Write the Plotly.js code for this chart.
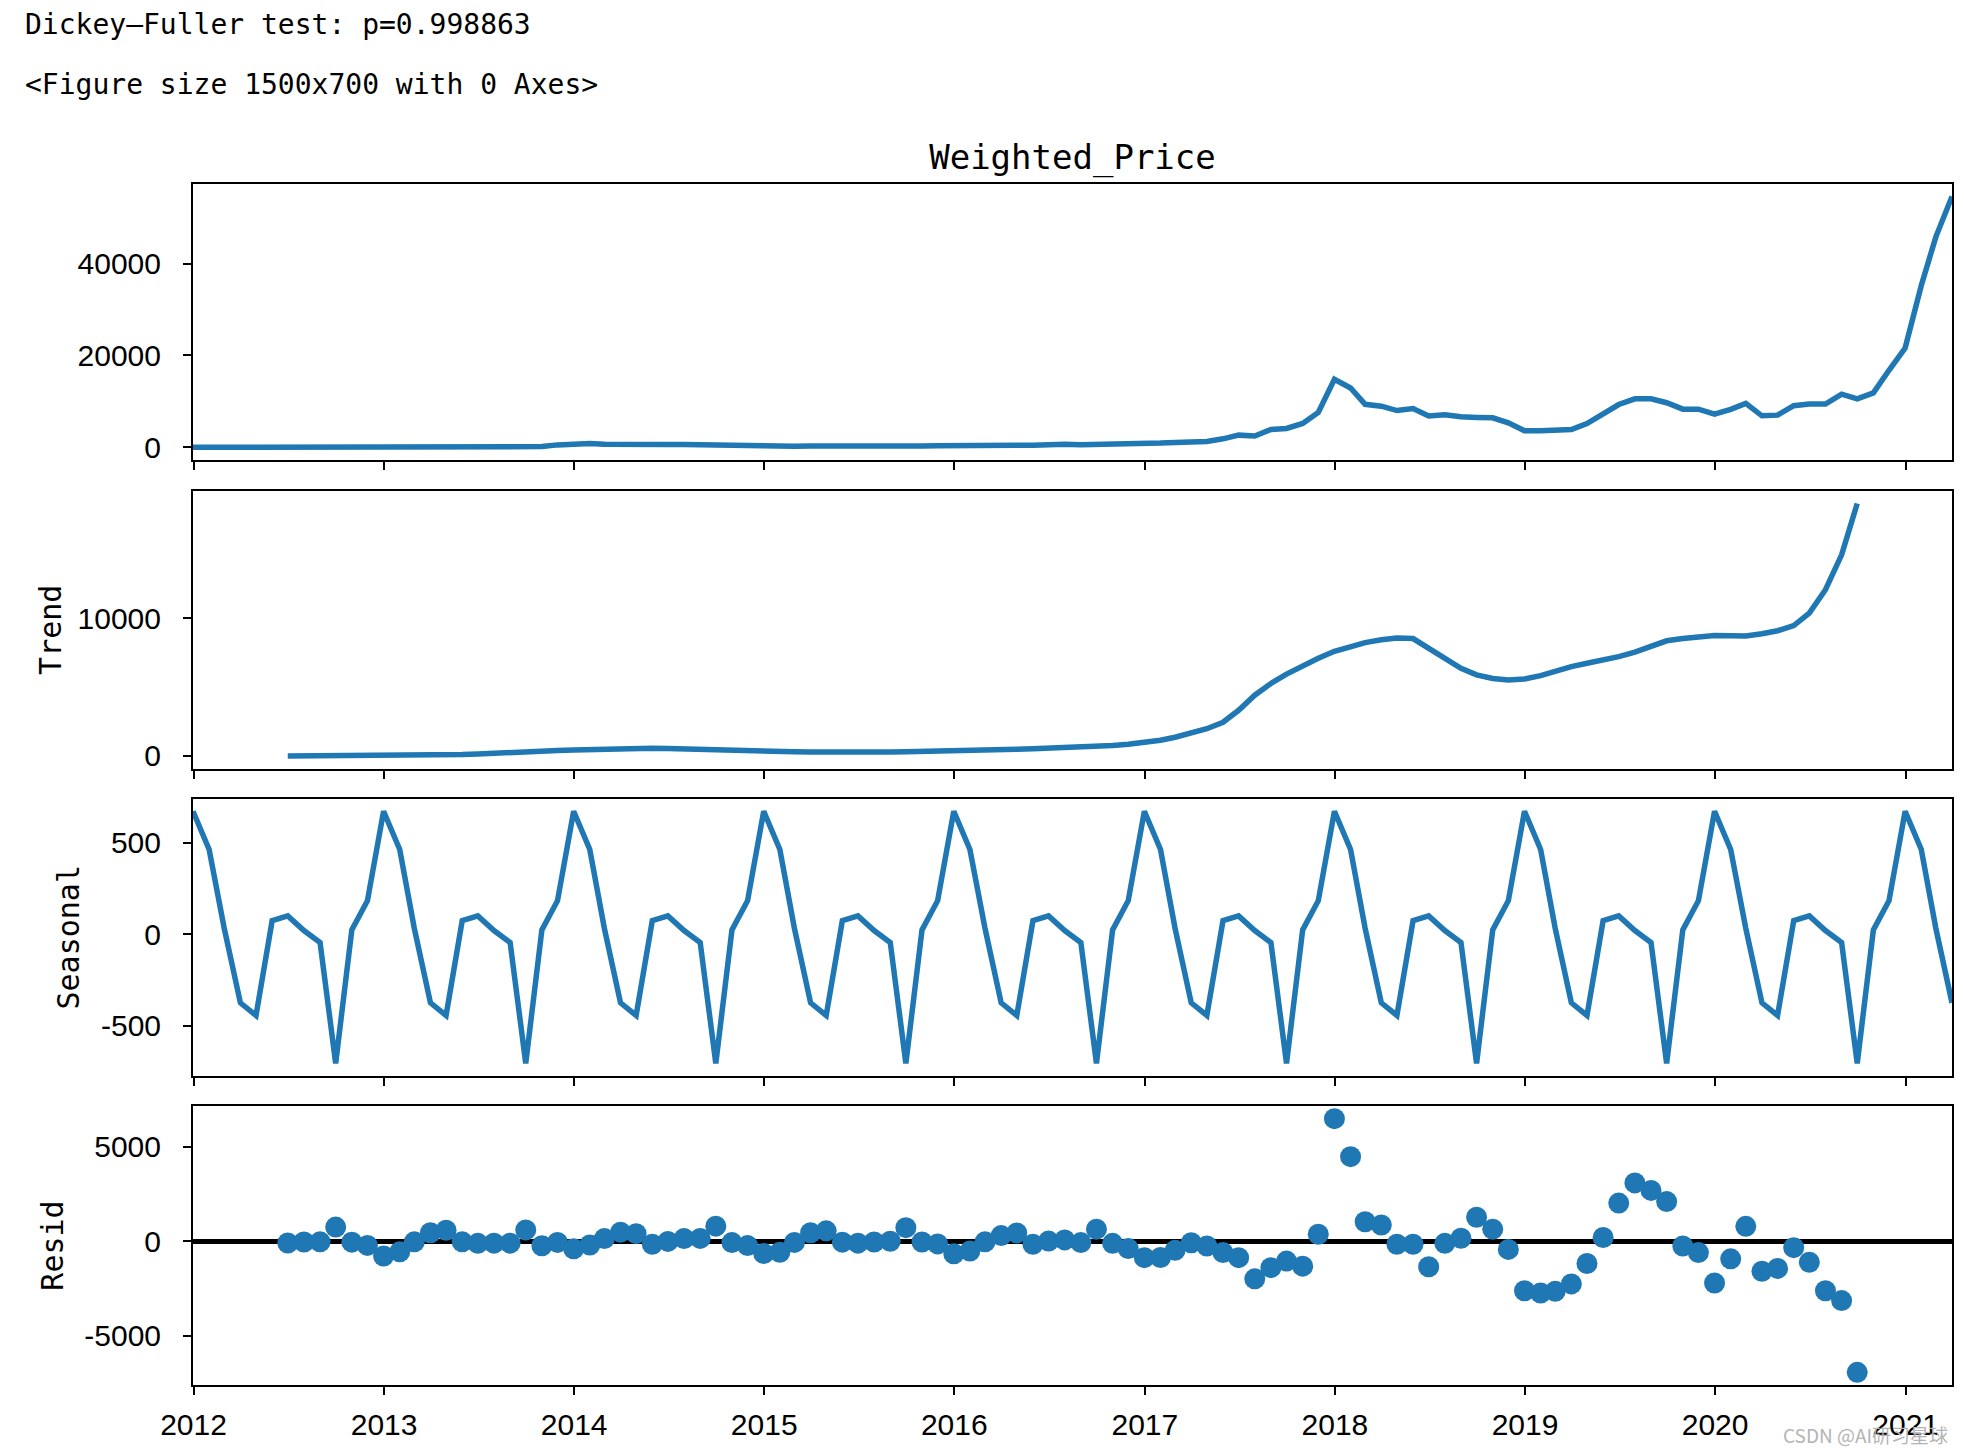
<!DOCTYPE html>
<html>
<head>
<meta charset="utf-8">
<script src="https://cdn.plot.ly/plotly-3.0.1.min.js"></script>
<style>
html, body { margin: 0; padding: 0; background: #ffffff; }
#chart { width: 1964px; height: 1454px; }
</style>
</head>
<body>
<div id="chart"></div>
<script>
// ---- data (monthly, month-end) ----
const dates = [
  "2011-12-31",
  "2012-01-31","2012-02-29","2012-03-31","2012-04-30","2012-05-31","2012-06-30","2012-07-31","2012-08-31","2012-09-30","2012-10-31","2012-11-30","2012-12-31",
  "2013-01-31","2013-02-28","2013-03-31","2013-04-30","2013-05-31","2013-06-30","2013-07-31","2013-08-31","2013-09-30","2013-10-31","2013-11-30","2013-12-31",
  "2014-01-31","2014-02-28","2014-03-31","2014-04-30","2014-05-31","2014-06-30","2014-07-31","2014-08-31","2014-09-30","2014-10-31","2014-11-30","2014-12-31",
  "2015-01-31","2015-02-28","2015-03-31","2015-04-30","2015-05-31","2015-06-30","2015-07-31","2015-08-31","2015-09-30","2015-10-31","2015-11-30","2015-12-31",
  "2016-01-31","2016-02-29","2016-03-31","2016-04-30","2016-05-31","2016-06-30","2016-07-31","2016-08-31","2016-09-30","2016-10-31","2016-11-30","2016-12-31",
  "2017-01-31","2017-02-28","2017-03-31","2017-04-30","2017-05-31","2017-06-30","2017-07-31","2017-08-31","2017-09-30","2017-10-31","2017-11-30","2017-12-31",
  "2018-01-31","2018-02-28","2018-03-31","2018-04-30","2018-05-31","2018-06-30","2018-07-31","2018-08-31","2018-09-30","2018-10-31","2018-11-30","2018-12-31",
  "2019-01-31","2019-02-28","2019-03-31","2019-04-30","2019-05-31","2019-06-30","2019-07-31","2019-08-31","2019-09-30","2019-10-31","2019-11-30","2019-12-31",
  "2020-01-31","2020-02-29","2020-03-31","2020-04-30","2020-05-31","2020-06-30","2020-07-31","2020-08-31","2020-09-30","2020-10-31","2020-11-30","2020-12-31",
  "2021-01-31","2021-02-28","2021-03-31"
];

const weightedPrice = [
  4.5,
  6.2, 5.3, 4.9, 5.0, 5.1, 5.9, 8.0, 10.6, 11.2, 11.7, 11.0, 13.3,
  15.5, 25, 56, 123, 116, 106, 85, 106, 130, 158, 525, 760,
  820, 640, 590, 460, 480, 615, 620, 535, 455, 365, 365, 340,
  250, 235, 270, 235, 237, 237, 280, 255, 233, 265, 350, 425,
  410, 405, 415, 435, 460, 640, 660, 580, 605, 640, 725, 820,
  915, 1060, 1130, 1250, 1850, 2650, 2450, 3880, 4100, 5180, 7600, 14800,
  12900, 9350, 8950, 8000, 8440, 6800, 7100, 6630, 6490, 6420, 5330, 3590,
  3590, 3620, 3880, 5180, 7250, 9310, 10550, 10550, 9700, 8300, 8300, 7200,
  8250, 9550, 6850, 7000, 9050, 9400, 9400, 11560, 10560, 11840, 16760, 21610,
  35200, 45800, 54600
];

const trend = [
  null,
  null, null, null, null, null, 8, 9, 11, 13, 17, 25, 38,
  46, 53, 62, 73, 100, 153, 217, 276, 324, 361, 390, 426,
  470, 510, 541, 563, 565, 541, 500, 459, 429, 406, 387, 361,
  331, 305, 284, 271, 266, 269, 279, 293, 306, 320, 338, 364,
  397, 426, 455, 486, 518, 550, 587, 636, 693, 755, 845, 986,
  1145, 1358, 1640, 1976, 2444, 3313, 4407, 5258, 5938, 6549, 7080, 7590,
  7950, 8220, 8420, 8550, 8510, 7830, 7050, 6350, 5880, 5620, 5500, 5580,
  5820, 6150, 6480, 6720, 6920, 7200, 7530, 7980, 8350, 8510, 8650, 8740,
  8720, 8700, 8860, 9080, 9450, 10360, 12050, 14580, 18300, null, null, null,
  null, null, null
];

const seasonal = [
  671,
  462, 32, -374, -443, 74, 100, 20, -45, -704, 24, 183, 671,
  462, 32, -374, -443, 74, 100, 20, -45, -704, 24, 183, 671,
  462, 32, -374, -443, 74, 100, 20, -45, -704, 24, 183, 671,
  462, 32, -374, -443, 74, 100, 20, -45, -704, 24, 183, 671,
  462, 32, -374, -443, 74, 100, 20, -45, -704, 24, 183, 671,
  462, 32, -374, -443, 74, 100, 20, -45, -704, 24, 183, 671,
  462, 32, -374, -443, 74, 100, 20, -45, -704, 24, 183, 671,
  462, 32, -374, -443, 74, 100, 20, -45, -704, 24, 183, 671,
  462, 32, -374, -443, 74, 100, 20, -45, -704, 24, 183, 671,
  462, 32, -374
];

const resid = [
  null,
  null, null, null, null, null, -90, -40, -30, 750, -50, -220, -780,
  -560, -30, 450, 580, -30, -110, -100, -100, 600, -240, -60, -400,
  -200, 140, 480, 400, -160, -10, 140, 150, 800, -70, -230, -650,
  -580, -60, 450, 550, -50, -100, -40, 0, 720, -40, -140, -660,
  -520, -30, 300, 440, -160, 10, 70, -70, 640, -110, -390, -870,
  -860, -480, -80, -250, -600, -870, -1990, -1400, -1050, -1320, 370, 6490,
  4480, 1030, 860, -160, -160, -1350, -110, 160, 1270, 640, -430, -2620,
  -2740, -2650, -2260, -1180, 200, 2020, 3090, 2690, 2100, -250, -600, -2210,
  -930, 790, -1590, -1440, -340, -1110, -2620, -3140, -6940, null, null, null,
  null, null, null
];

// ---- tick labels ----
const yearTicks = ["2012-01-01","2013-01-01","2014-01-01","2015-01-01","2016-01-01","2017-01-01","2018-01-01","2019-01-01","2020-01-01","2021-01-01"];
const yearLabels = ["2012","2013","2014","2015","2016","2017","2018","2019","2020","2021"];
const priceTicks = [0, 20000, 40000];
const priceTickText = ["0", "20000", "40000"];
const trendTicks = [0, 10000];
const trendTickText = ["0", "10000"];
const seasonalTicks = [-500, 0, 500];
const seasonalTickText = ["-500", "0", "500"];
const residTicks = [-5000, 0, 5000];
const residTickText = ["-5000", "0", "5000"];

const titleText = "Weighted_Price";
const adfText = "Dickey–Fuller test: p=0.998863";
const figText = "<Figure size 1500x700 with 0 Axes>";
const watermark = "CSDN @AI研习星球";

// ---- styling ----
const BLUE = "#1f77b4";
const MONO = "'DejaVu Sans Mono', monospace";
const SANS = "'Liberation Sans', Arial, sans-serif";
const tickFont = { family: SANS, size: 30, color: "#000" };
const LW = 5.5;

const xBase = {
  type: "date",
  range: [dates[0], dates[dates.length - 1]],
  tickmode: "array",
  tickvals: yearTicks,
  ticktext: yearLabels,
  showline: true, linecolor: "#000", linewidth: 2, mirror: true,
  ticks: "outside", ticklen: 8, tickwidth: 2, tickcolor: "#000",
  showgrid: false, zeroline: false,
  tickfont: tickFont,
  fixedrange: true
};
function yBase(extra) {
  return Object.assign({
    showline: true, linecolor: "#000", linewidth: 2, mirror: true,
    ticks: "outside", ticklen: 8, tickwidth: 2, tickcolor: "#000",
    showgrid: false, zeroline: false,
    tickmode: "array",
    tickfont: tickFont,
    ticklabelstandoff: 16,
    fixedrange: true
  }, extra);
}

const traces = [
  { x: dates, y: weightedPrice, xaxis: "x", yaxis: "y", type: "scatter", mode: "lines",
    line: { color: BLUE, width: LW }, hoverinfo: "skip" },
  { x: dates, y: trend, xaxis: "x2", yaxis: "y2", type: "scatter", mode: "lines",
    line: { color: BLUE, width: LW }, hoverinfo: "skip" },
  { x: dates, y: seasonal, xaxis: "x3", yaxis: "y3", type: "scatter", mode: "lines",
    line: { color: BLUE, width: LW }, hoverinfo: "skip" },
  { x: dates, y: resid, xaxis: "x4", yaxis: "y4", type: "scatter", mode: "markers",
    marker: { color: BLUE, size: 21, line: { width: 0 } }, hoverinfo: "skip" }
];

const layout = {
  width: 1964, height: 1454,
  paper_bgcolor: "#ffffff", plot_bgcolor: "#ffffff",
  showlegend: false,
  margin: { l: 193, r: 12, t: 184, b: 69, pad: 0 },
  title: {
    text: titleText,
    font: { family: MONO, size: 34, color: "#000" },
    xref: "paper", x: 0.5, xanchor: "center",
    yref: "container", y: 1 - 157 / 1454, yanchor: "middle"
  },
  xaxis:  Object.assign({}, xBase, { anchor: "y",  showticklabels: false }),
  xaxis2: Object.assign({}, xBase, { anchor: "y2", showticklabels: false }),
  xaxis3: Object.assign({}, xBase, { anchor: "y3", showticklabels: false }),
  xaxis4: Object.assign({}, xBase, { anchor: "y4", showticklabels: true, ticklabelstandoff: 4 }),
  yaxis: yBase({ anchor: "x", domain: [0.7702, 1.0], range: [-2760, 57300],
    tickvals: priceTicks, ticktext: priceTickText }),
  yaxis2: yBase({ anchor: "x2", domain: [0.5133, 0.7444], range: [-908, 19207],
    tickvals: trendTicks, ticktext: trendTickText,
    title: { text: "Trend", font: { family: MONO, size: 30, color: "#000" }, standoff: 7 } }),
  yaxis3: yBase({ anchor: "x3", domain: [0.2573, 0.4883], range: [-773, 740],
    tickvals: seasonalTicks, ticktext: seasonalTickText,
    title: { text: "Seasonal", font: { family: MONO, size: 30, color: "#000" }, standoff: 12 } }),
  yaxis4: yBase({ anchor: "x4", domain: [0.0, 0.2323], range: [-7611, 7161],
    tickvals: residTicks, ticktext: residTickText,
    zeroline: true, zerolinecolor: "#000", zerolinewidth: 5,
    title: { text: "Resid", font: { family: MONO, size: 30, color: "#000" }, standoff: 12 } }),
  annotations: [
    { text: adfText, xref: "paper", yref: "paper", x: -0.09665, y: 1.1332,
      xanchor: "left", yanchor: "middle", showarrow: false,
      font: { family: MONO, size: 28, color: "#000" } },
    { text: figText.replace(/</g, "&lt;").replace(/>/g, "&gt;"), xref: "paper", yref: "paper", x: -0.09665, y: 1.0825,
      xanchor: "left", yanchor: "middle", showarrow: false,
      font: { family: MONO, size: 28, color: "#000" } },
    { text: watermark, xref: "paper", yref: "paper", x: 0.9989, y: -0.0408,
      xanchor: "right", yanchor: "middle", showarrow: false,
      font: { family: "'Noto Sans CJK SC', sans-serif", size: 19, color: "#b4b4b4" } }
  ]
};

Plotly.newPlot("chart", traces, layout, { displayModeBar: false, staticPlot: true });
</script>
</body>
</html>
